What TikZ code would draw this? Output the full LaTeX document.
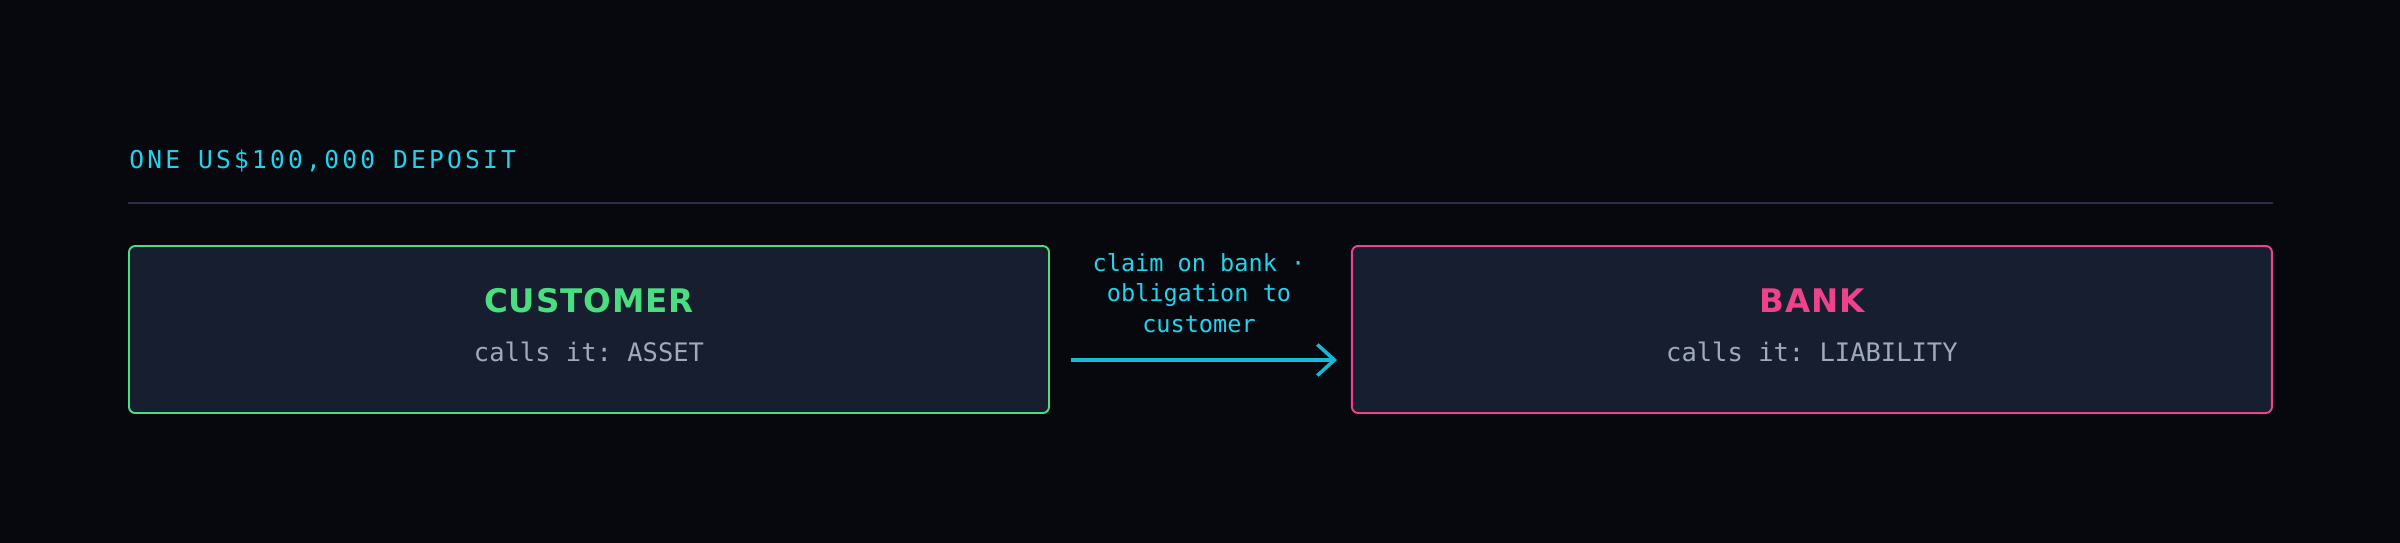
\documentclass[tikz,border=0pt]{standalone}
\usepackage{fontspec}
\setmonofont{DejaVu Sans Mono}
\newfontfamily\spacedmono[LetterSpace=13]{DejaVu Sans Mono}
\newfontfamily\headsans[LetterSpace=3]{DejaVu Sans}
\usepackage{xcolor}
\usepackage{tikz}
\usetikzlibrary{positioning, arrows.meta}

\definecolor{bgdark}{HTML}{06080D}
\definecolor{boxfill}{HTML}{161E2F}
\definecolor{custgreen}{HTML}{4ADE80}
\definecolor{bankpink}{HTML}{F0418B}
\definecolor{flowcyan}{HTML}{22D3EE}
\definecolor{arrowcyan}{HTML}{17B8D6}
\definecolor{mutedgray}{HTML}{A0AABE}
\definecolor{rulegray}{HTML}{2A2F45}

\tikzset{
    party/.style={draw, fill=boxfill, line width=1.1pt, rounded corners=3.5pt, minimum width=18.4cm, minimum height=3.34cm, inner sep=0pt},
    partyname/.style={anchor=base, font=\headsans\bfseries\fontsize{18.5pt}{20pt}\selectfont},
    callsit/.style={anchor=base, text=mutedgray, font=\ttfamily\fontsize{14.5pt}{16pt}\selectfont},
    flow/.style={draw=arrowcyan, line width=2pt, -{Straight Barb[length=0.34cm, width=0.62cm, line width=2pt]}},
    flowlabel/.style={text=flowcyan, align=center, inner sep=0pt, font=\ttfamily\fontsize{13.4pt}{17.6pt}\selectfont}
}

\begin{document}
\begin{tikzpicture}
    % background and page size
    \useasboundingbox (0,0) rectangle (48,-10.84);
    \fill[bgdark] (-0.1,0.1) rectangle (48.1,-10.94);

    % the two sides of the deposit
    \node[party, draw=custgreen] (cust) at (11.78,-6.59) {};
    \node[party, draw=bankpink, right=6.02cm of cust] (bank) {};

    % heading and divider
    \node[anchor=base west, inner sep=0pt, text=flowcyan, font=\spacedmono\fontsize{14pt}{16pt}\selectfont] (heading) at (2.58,-3.36) {ONE US\$100,000 DEPOSIT};
    \draw[rulegray, line width=1pt] ([yshift=0.84cm]cust.north west) -- ([yshift=0.84cm]bank.north east);

    % texts inside the boxes
    \node[partyname, text=custgreen] (custname) at ([yshift=0.34cm]cust.center) {CUSTOMER};
    \node[callsit] (custcalls) at ([yshift=-0.63cm]cust.center) {calls it: ASSET};
    \node[partyname, text=bankpink] (bankname) at ([yshift=0.34cm]bank.center) {BANK};
    \node[callsit] (bankcalls) at ([yshift=-0.63cm]bank.center) {calls it: LIABILITY};

    % the claim / obligation arrow
    \draw[flow] ([xshift=0.42cm,yshift=-0.61cm]cust.east) -- ([xshift=-0.28cm,yshift=-0.61cm]bank.west)
        node[midway, above=0.5cm, xshift=-0.1cm, flowlabel] (claim) {claim on bank ·\\obligation to\\customer};
\end{tikzpicture}
\end{document}
